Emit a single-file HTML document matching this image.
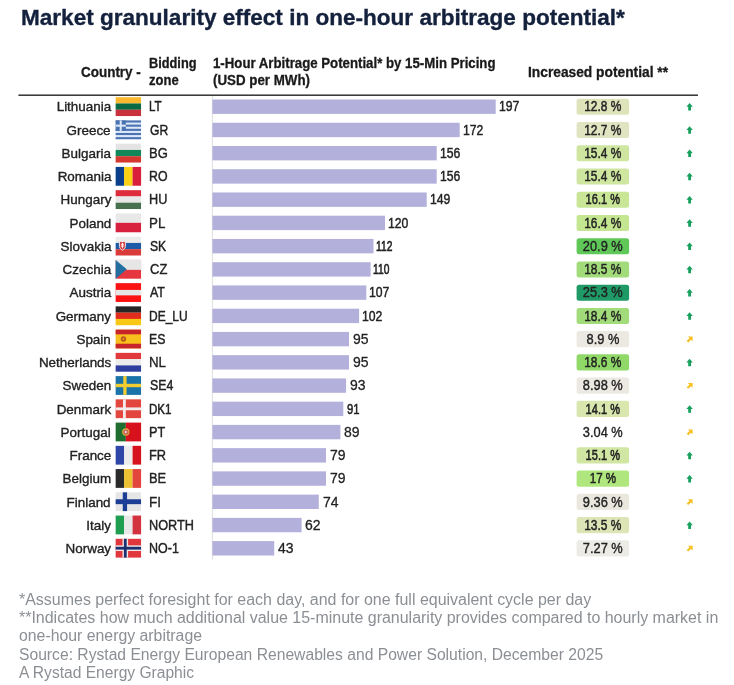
<!DOCTYPE html>
<html lang="en"><head><meta charset="utf-8"><title>Market granularity effect in one-hour arbitrage potential</title>
<style>
html,body{margin:0;padding:0;background:#fff;}
body{width:734px;height:685px;position:relative;overflow:hidden;font-family:"Liberation Sans",Arial,Helvetica,sans-serif;}
.t{position:absolute;white-space:nowrap;display:block;}
#chart{position:absolute;left:0;top:0;width:734px;height:685px;will-change:transform;}
.r{-webkit-text-stroke:0.42px #222;}
.n{-webkit-text-stroke:0.36px #222;}
.h{-webkit-text-stroke:0.3px #1a1a1a;}
.title{-webkit-text-stroke:0.35px #14213d;}
</style></head><body><div id="chart">

<span class="t title" style="left:21.00px;top:4.30px;font-size:22.6px;line-height:27px;color:#14213d;font-weight:700;transform:scaleX(0.9979);transform-origin:0 50%;">Market granularity effect in one-hour arbitrage potential*</span>
<span class="t h" style="left:81.00px;top:63.80px;font-size:14px;line-height:17px;color:#1a1a1a;font-weight:700;transform:scaleX(0.9612);transform-origin:0 50%;">Country -</span>
<span class="t h" style="left:149.40px;top:54.60px;font-size:14px;line-height:17px;color:#1a1a1a;font-weight:700;transform:scaleX(0.9118);transform-origin:0 50%;">Bidding</span>
<span class="t h" style="left:149.40px;top:71.70px;font-size:14px;line-height:17px;color:#1a1a1a;font-weight:700;transform:scaleX(0.9300);transform-origin:0 50%;">zone</span>
<span class="t h" style="left:212.60px;top:54.60px;font-size:14px;line-height:17px;color:#1a1a1a;font-weight:700;transform:scaleX(0.9449);transform-origin:0 50%;">1-Hour Arbitrage Potential* by 15-Min Pricing</span>
<span class="t h" style="left:212.60px;top:71.70px;font-size:14px;line-height:17px;color:#1a1a1a;font-weight:700;transform:scaleX(0.9521);transform-origin:0 50%;">(USD per MWh)</span>
<span class="t h" style="left:528.00px;top:63.80px;font-size:14px;line-height:17px;color:#1a1a1a;font-weight:700;transform:scaleX(0.9833);transform-origin:0 50%;">Increased potential **</span>
<svg id="gfx" width="734" height="685" viewBox="0 0 734 685" style="position:absolute;left:0;top:0"><rect x="18.4" y="94.45" width="679.6" height="1.5" fill="#333"/><rect x="211.9" y="96" width="1" height="463.8" fill="#dedede"/><g transform="translate(115.65 97.20)"><rect x="0" y="0.00" width="25.4" height="6.32" fill="#fdb92e"/><rect x="0" y="6.27" width="25.4" height="6.32" fill="#0a6a44"/><rect x="0" y="12.53" width="25.4" height="6.32" fill="#c9313c"/></g><rect x="212.4" y="99.50" width="283.3" height="14.4" fill="#b3b0dc"/><rect x="576.6" y="98.70" width="52.5" height="16.1" rx="2.5" fill="#dfe3ba"/><path transform="translate(686.4 103.10)" d="M3.2 0L6.4 3.7H4.6V7.5H1.8V3.7H0z" fill="#17a05c"/><g transform="translate(115.65 120.44)"><rect width="25.4" height="18.8" fill="#dbe8fa"/><rect x="0" y="0.00" width="25.4" height="2.09" fill="#4b73b1"/><rect x="0" y="4.18" width="25.4" height="2.09" fill="#4b73b1"/><rect x="0" y="8.36" width="25.4" height="2.09" fill="#4b73b1"/><rect x="0" y="12.53" width="25.4" height="2.09" fill="#4b73b1"/><rect x="0" y="16.71" width="25.4" height="2.09" fill="#4b73b1"/><rect x="0" y="0" width="10.16" height="10.44" fill="#4b73b1"/><rect x="4.06" y="0" width="2.03" height="10.44" fill="#dbe8fa"/><rect x="0" y="4.18" width="10.16" height="2.09" fill="#dbe8fa"/></g><rect x="212.4" y="122.74" width="247.3" height="14.4" fill="#b3b0dc"/><rect x="576.6" y="121.94" width="52.5" height="16.1" rx="2.5" fill="#e1e4c0"/><path transform="translate(686.4 126.34)" d="M3.2 0L6.4 3.7H4.6V7.5H1.8V3.7H0z" fill="#17a05c"/><g transform="translate(115.65 143.68)"><rect x="0" y="0.00" width="25.4" height="6.32" fill="#e4e4e4"/><rect x="0" y="6.27" width="25.4" height="6.32" fill="#12875a"/><rect x="0" y="12.53" width="25.4" height="6.32" fill="#d5382f"/></g><rect x="212.4" y="145.98" width="224.3" height="14.4" fill="#b3b0dc"/><rect x="576.6" y="145.18" width="52.5" height="16.1" rx="2.5" fill="#cee6a0"/><path transform="translate(686.4 149.58)" d="M3.2 0L6.4 3.7H4.6V7.5H1.8V3.7H0z" fill="#17a05c"/><g transform="translate(115.65 166.93)"><rect x="0.00" y="0" width="8.52" height="18.8" fill="#0b3f8c"/><rect x="8.47" y="0" width="8.52" height="18.8" fill="#fbd116"/><rect x="16.93" y="0" width="8.52" height="18.8" fill="#d8203a"/></g><rect x="212.4" y="169.23" width="224.3" height="14.4" fill="#b3b0dc"/><rect x="576.6" y="168.43" width="52.5" height="16.1" rx="2.5" fill="#cee6a0"/><path transform="translate(686.4 172.83)" d="M3.2 0L6.4 3.7H4.6V7.5H1.8V3.7H0z" fill="#17a05c"/><g transform="translate(115.65 190.17)"><rect x="0" y="0.00" width="25.4" height="6.32" fill="#de2c3c"/><rect x="0" y="6.27" width="25.4" height="6.32" fill="#e8e8e8"/><rect x="0" y="12.53" width="25.4" height="6.32" fill="#47714f"/></g><rect x="212.4" y="192.47" width="214.3" height="14.4" fill="#b3b0dc"/><rect x="576.6" y="191.67" width="52.5" height="16.1" rx="2.5" fill="#c8e696"/><path transform="translate(686.4 196.07)" d="M3.2 0L6.4 3.7H4.6V7.5H1.8V3.7H0z" fill="#17a05c"/><g transform="translate(115.65 213.41)"><rect x="0" y="0.00" width="25.4" height="9.45" fill="#e8e8e8"/><rect x="0" y="9.40" width="25.4" height="9.45" fill="#d8213f"/></g><rect x="212.4" y="215.71" width="172.6" height="14.4" fill="#b3b0dc"/><rect x="576.6" y="214.91" width="52.5" height="16.1" rx="2.5" fill="#c4e690"/><path transform="translate(686.4 219.31)" d="M3.2 0L6.4 3.7H4.6V7.5H1.8V3.7H0z" fill="#17a05c"/><g transform="translate(115.65 236.65)"><rect x="0" y="0.00" width="25.4" height="6.32" fill="#ececec"/><rect x="0" y="6.27" width="25.4" height="6.32" fill="#1d5aa8"/><rect x="0" y="12.53" width="25.4" height="6.32" fill="#d93a3a"/><path d="M3.8 4.9h6v5c0 2.3-3 3.6-3 3.6s-3-1.3-3-3.6z" fill="#d93a3a" stroke="#f0f0f0" stroke-width="0.9"/><path d="M6.8 6v5.6M5.3 7.6h3M5 9.4h3.6" stroke="#fff" stroke-width="0.9" fill="none"/></g><rect x="212.4" y="238.95" width="161.1" height="14.4" fill="#b3b0dc"/><rect x="576.6" y="238.15" width="52.5" height="16.1" rx="2.5" fill="#60c858"/><path transform="translate(686.4 242.55)" d="M3.2 0L6.4 3.7H4.6V7.5H1.8V3.7H0z" fill="#17a05c"/><g transform="translate(115.65 259.89)"><rect width="25.4" height="18.8" fill="#e6363f"/><rect width="25.4" height="9.96" fill="#e6e6e6"/><path d="M0 0L11.18 9.40L0 18.8z" fill="#236f9f"/></g><rect x="212.4" y="262.19" width="158.2" height="14.4" fill="#b3b0dc"/><rect x="576.6" y="261.39" width="52.5" height="16.1" rx="2.5" fill="#a2dc7a"/><path transform="translate(686.4 265.79)" d="M3.2 0L6.4 3.7H4.6V7.5H1.8V3.7H0z" fill="#17a05c"/><g transform="translate(115.65 283.14)"><rect width="25.4" height="18.8" fill="#fb1212"/><rect y="6.77" width="25.4" height="5.45" fill="#e6e6e6"/></g><rect x="212.4" y="285.44" width="153.9" height="14.4" fill="#b3b0dc"/><rect x="576.6" y="284.64" width="52.5" height="16.1" rx="2.5" fill="#1f9966"/><path transform="translate(686.4 289.04)" d="M3.2 0L6.4 3.7H4.6V7.5H1.8V3.7H0z" fill="#17a05c"/><g transform="translate(115.65 306.38)"><rect x="0" y="0.00" width="25.4" height="6.32" fill="#262626"/><rect x="0" y="6.27" width="25.4" height="6.32" fill="#e12d1c"/><rect x="0" y="12.53" width="25.4" height="6.32" fill="#f8c815"/></g><rect x="212.4" y="308.68" width="146.7" height="14.4" fill="#b3b0dc"/><rect x="576.6" y="307.88" width="52.5" height="16.1" rx="2.5" fill="#a2dc7a"/><path transform="translate(686.4 312.28)" d="M3.2 0L6.4 3.7H4.6V7.5H1.8V3.7H0z" fill="#17a05c"/><g transform="translate(115.65 329.62)"><rect width="25.4" height="18.8" fill="#f7bf1c"/><rect width="25.4" height="4.70" fill="#c8242c"/><rect y="14.10" width="25.4" height="4.70" fill="#c8242c"/><circle cx="7.8" cy="9.40" r="2.7" fill="#b9561c"/><circle cx="7.8" cy="9.40" r="0.9" fill="#e8a81c"/></g><rect x="212.4" y="331.92" width="136.6" height="14.4" fill="#b3b0dc"/><rect x="576.6" y="331.12" width="52.5" height="16.1" rx="2.5" fill="#ebe9e1"/><path transform="translate(686.5 336.62) scale(0.9)" d="M1.6 0H6.8V5.2L5 3.6L1.9 6.4L0.2 4.7L3.3 1.7z" fill="#f6c122"/><g transform="translate(115.65 352.86)"><rect x="0" y="0.00" width="25.4" height="6.32" fill="#e03a3d"/><rect x="0" y="6.27" width="25.4" height="6.32" fill="#ececec"/><rect x="0" y="12.53" width="25.4" height="6.32" fill="#2f3f9f"/></g><rect x="212.4" y="355.16" width="136.6" height="14.4" fill="#b3b0dc"/><rect x="576.6" y="354.36" width="52.5" height="16.1" rx="2.5" fill="#90d868"/><path transform="translate(686.4 358.76)" d="M3.2 0L6.4 3.7H4.6V7.5H1.8V3.7H0z" fill="#17a05c"/><g transform="translate(115.65 376.10)"><rect width="25.4" height="18.8" fill="#1b74a9"/><rect x="7.62" width="3.30" height="18.8" fill="#f2cd30"/><rect y="7.71" width="25.4" height="3.38" fill="#f2cd30"/></g><rect x="212.4" y="378.40" width="133.7" height="14.4" fill="#b3b0dc"/><rect x="576.6" y="377.60" width="52.5" height="16.1" rx="2.5" fill="#ebe9e1"/><path transform="translate(686.5 383.10) scale(0.9)" d="M1.6 0H6.8V5.2L5 3.6L1.9 6.4L0.2 4.7L3.3 1.7z" fill="#f6c122"/><g transform="translate(115.65 399.35)"><rect width="25.4" height="18.8" fill="#e2463d"/><rect x="7.37" width="2.79" height="18.8" fill="#f4ecec"/><rect y="8.08" width="25.4" height="2.82" fill="#f4ecec"/></g><rect x="212.4" y="401.65" width="130.9" height="14.4" fill="#b3b0dc"/><rect x="576.6" y="400.85" width="52.5" height="16.1" rx="2.5" fill="#d9e6ae"/><path transform="translate(686.4 405.25)" d="M3.2 0L6.4 3.7H4.6V7.5H1.8V3.7H0z" fill="#17a05c"/><g transform="translate(115.65 422.59)"><rect x="0.00" y="0" width="10.21" height="18.8" fill="#1f6e2f"/><rect x="10.16" y="0" width="15.29" height="18.8" fill="#d8121d"/><circle cx="10.16" cy="9.40" r="3.7" fill="#d9b04a"/><circle cx="10.16" cy="9.40" r="2.6" fill="#cf5a4a"/><circle cx="10.16" cy="9.40" r="1.2" fill="#d8d0d0"/></g><rect x="212.4" y="424.89" width="128.0" height="14.4" fill="#b3b0dc"/><path transform="translate(686.5 429.59) scale(0.9)" d="M1.6 0H6.8V5.2L5 3.6L1.9 6.4L0.2 4.7L3.3 1.7z" fill="#f6c122"/><g transform="translate(115.65 445.83)"><rect x="0.00" y="0" width="8.52" height="18.8" fill="#2f47a9"/><rect x="8.47" y="0" width="8.52" height="18.8" fill="#ececec"/><rect x="16.93" y="0" width="8.52" height="18.8" fill="#d8121d"/></g><rect x="212.4" y="448.13" width="113.6" height="14.4" fill="#b3b0dc"/><rect x="576.6" y="447.33" width="52.5" height="16.1" rx="2.5" fill="#d0e6a2"/><path transform="translate(686.4 451.73)" d="M3.2 0L6.4 3.7H4.6V7.5H1.8V3.7H0z" fill="#17a05c"/><g transform="translate(115.65 469.07)"><rect x="0.00" y="0" width="8.52" height="18.8" fill="#2a2a2a"/><rect x="8.47" y="0" width="8.52" height="18.8" fill="#edc230"/><rect x="16.93" y="0" width="8.52" height="18.8" fill="#e2463d"/></g><rect x="212.4" y="471.37" width="113.6" height="14.4" fill="#b3b0dc"/><rect x="576.6" y="470.57" width="52.5" height="16.1" rx="2.5" fill="#b0e67e"/><path transform="translate(686.4 474.97)" d="M3.2 0L6.4 3.7H4.6V7.5H1.8V3.7H0z" fill="#17a05c"/><g transform="translate(115.65 492.31)"><rect width="25.4" height="18.8" fill="#e6e6e6"/><rect x="7.11" width="4.32" height="18.8" fill="#1c3f95"/><rect y="6.96" width="25.4" height="4.89" fill="#1c3f95"/></g><rect x="212.4" y="494.61" width="106.4" height="14.4" fill="#b3b0dc"/><rect x="576.6" y="493.81" width="52.5" height="16.1" rx="2.5" fill="#eae8de"/><path transform="translate(686.5 499.31) scale(0.9)" d="M1.6 0H6.8V5.2L5 3.6L1.9 6.4L0.2 4.7L3.3 1.7z" fill="#f6c122"/><g transform="translate(115.65 515.56)"><rect x="0.00" y="0" width="8.52" height="18.8" fill="#1f9e51"/><rect x="8.47" y="0" width="8.52" height="18.8" fill="#e8e8e8"/><rect x="16.93" y="0" width="8.52" height="18.8" fill="#d3333f"/></g><rect x="212.4" y="517.86" width="89.2" height="14.4" fill="#b3b0dc"/><rect x="576.6" y="517.06" width="52.5" height="16.1" rx="2.5" fill="#dde5b6"/><path transform="translate(686.4 521.46)" d="M3.2 0L6.4 3.7H4.6V7.5H1.8V3.7H0z" fill="#17a05c"/><g transform="translate(115.65 538.80)"><rect width="25.4" height="18.8" fill="#e2363d"/><rect x="6.86" width="5.59" height="18.8" fill="#f0e8e8"/><rect y="6.58" width="25.4" height="5.64" fill="#f0e8e8"/><rect x="8.25" width="2.79" height="18.8" fill="#1c2f6f"/><rect y="7.99" width="25.4" height="2.82" fill="#1c2f6f"/></g><rect x="212.4" y="541.10" width="61.8" height="14.4" fill="#b3b0dc"/><rect x="576.6" y="540.30" width="52.5" height="16.1" rx="2.5" fill="#ecebe6"/><path transform="translate(686.5 545.80) scale(0.9)" d="M1.6 0H6.8V5.2L5 3.6L1.9 6.4L0.2 4.7L3.3 1.7z" fill="#f6c122"/></svg>
<div class="row">
<span class="t n" style="left:55.80px;top:99.45px;font-size:13.6px;line-height:16px;color:#222222;transform:scaleX(0.9880);transform-origin:100% 50%;">Lithuania</span>
<span class="t r" style="left:149.35px;top:98.45px;font-size:14px;line-height:17px;color:#222222;-webkit-text-stroke-width:0.50px;transform:scaleX(0.8255);transform-origin:0 50%;">LT</span>
<span class="t r" style="left:498.59px;top:98.45px;font-size:14px;line-height:17px;color:#222222;-webkit-text-stroke-width:0.44px;transform:scaleX(0.8716);transform-origin:0 50%;">197</span>
<span class="t r" style="left:581.11px;top:98.45px;font-size:14px;line-height:17px;color:#222222;-webkit-text-stroke-width:0.46px;transform:scaleX(0.8520);transform-origin:50% 50%;">12.8 %</span>
</div>
<div class="row">
<span class="t n" style="left:66.40px;top:122.69px;font-size:13.6px;line-height:16px;color:#222222;transform:scaleX(0.9880);transform-origin:100% 50%;">Greece</span>
<span class="t r" style="left:149.69px;top:121.69px;font-size:14px;line-height:17px;color:#222222;-webkit-text-stroke-width:0.44px;transform:scaleX(0.8673);transform-origin:0 50%;">GR</span>
<span class="t r" style="left:462.64px;top:121.69px;font-size:14px;line-height:17px;color:#222222;-webkit-text-stroke-width:0.44px;transform:scaleX(0.8716);transform-origin:0 50%;">172</span>
<span class="t r" style="left:581.11px;top:121.69px;font-size:14px;line-height:17px;color:#222222;-webkit-text-stroke-width:0.46px;transform:scaleX(0.8520);transform-origin:50% 50%;">12.7 %</span>
</div>
<div class="row">
<span class="t n" style="left:61.10px;top:145.93px;font-size:13.6px;line-height:16px;color:#222222;transform:scaleX(0.9880);transform-origin:100% 50%;">Bulgaria</span>
<span class="t r" style="left:149.23px;top:144.93px;font-size:14px;line-height:17px;color:#222222;-webkit-text-stroke-width:0.36px;transform:scaleX(0.9278);transform-origin:0 50%;">BG</span>
<span class="t r" style="left:439.63px;top:144.93px;font-size:14px;line-height:17px;color:#222222;-webkit-text-stroke-width:0.44px;transform:scaleX(0.8716);transform-origin:0 50%;">156</span>
<span class="t r" style="left:581.11px;top:144.93px;font-size:14px;line-height:17px;color:#222222;-webkit-text-stroke-width:0.46px;transform:scaleX(0.8520);transform-origin:50% 50%;">15.4 %</span>
</div>
<div class="row">
<span class="t n" style="left:56.57px;top:169.18px;font-size:13.6px;line-height:16px;color:#222222;transform:scaleX(0.9880);transform-origin:100% 50%;">Romania</span>
<span class="t r" style="left:149.29px;top:168.18px;font-size:14px;line-height:17px;color:#222222;-webkit-text-stroke-width:0.43px;transform:scaleX(0.8802);transform-origin:0 50%;">RO</span>
<span class="t r" style="left:439.63px;top:168.18px;font-size:14px;line-height:17px;color:#222222;-webkit-text-stroke-width:0.44px;transform:scaleX(0.8716);transform-origin:0 50%;">156</span>
<span class="t r" style="left:581.11px;top:168.18px;font-size:14px;line-height:17px;color:#222222;-webkit-text-stroke-width:0.46px;transform:scaleX(0.8520);transform-origin:50% 50%;">15.4 %</span>
</div>
<div class="row">
<span class="t n" style="left:59.59px;top:192.42px;font-size:13.6px;line-height:16px;color:#222222;transform:scaleX(0.9880);transform-origin:100% 50%;">Hungary</span>
<span class="t r" style="left:149.26px;top:191.42px;font-size:14px;line-height:17px;color:#222222;-webkit-text-stroke-width:0.39px;transform:scaleX(0.9056);transform-origin:0 50%;">HU</span>
<span class="t r" style="left:429.56px;top:191.42px;font-size:14px;line-height:17px;color:#222222;-webkit-text-stroke-width:0.44px;transform:scaleX(0.8716);transform-origin:0 50%;">149</span>
<span class="t r" style="left:581.11px;top:191.42px;font-size:14px;line-height:17px;color:#222222;-webkit-text-stroke-width:0.54px;transform:scaleX(0.7890);transform-origin:50% 50%;">16.1 %</span>
</div>
<div class="row">
<span class="t n" style="left:68.65px;top:215.66px;font-size:13.6px;line-height:16px;color:#222222;transform:scaleX(0.9880);transform-origin:100% 50%;">Poland</span>
<span class="t r" style="left:149.20px;top:214.66px;font-size:14px;line-height:17px;color:#222222;-webkit-text-stroke-width:0.33px;transform:scaleX(0.9548);transform-origin:0 50%;">PL</span>
<span class="t r" style="left:387.86px;top:214.66px;font-size:14px;line-height:17px;color:#222222;-webkit-text-stroke-width:0.44px;transform:scaleX(0.8716);transform-origin:0 50%;">120</span>
<span class="t r" style="left:581.11px;top:214.66px;font-size:14px;line-height:17px;color:#222222;-webkit-text-stroke-width:0.46px;transform:scaleX(0.8520);transform-origin:50% 50%;">16.4 %</span>
</div>
<div class="row">
<span class="t n" style="left:59.59px;top:238.90px;font-size:13.6px;line-height:16px;color:#222222;transform:scaleX(0.9880);transform-origin:100% 50%;">Slovakia</span>
<span class="t r" style="left:149.75px;top:237.90px;font-size:14px;line-height:17px;color:#222222;-webkit-text-stroke-width:0.44px;transform:scaleX(0.8659);transform-origin:0 50%;">SK</span>
<span class="t r" style="left:376.36px;top:237.90px;font-size:14px;line-height:17px;color:#222222;-webkit-text-stroke-width:0.62px;transform:scaleX(0.7312);transform-origin:0 50%;">112</span>
<span class="t r" style="left:581.11px;top:237.90px;font-size:14px;line-height:17px;color:#222222;-webkit-text-stroke-width:0.38px;transform:scaleX(0.9150);transform-origin:50% 50%;">20.9 %</span>
</div>
<div class="row">
<span class="t n" style="left:61.87px;top:262.14px;font-size:13.6px;line-height:16px;color:#222222;transform:scaleX(0.9880);transform-origin:100% 50%;">Czechia</span>
<span class="t r" style="left:149.64px;top:261.14px;font-size:14px;line-height:17px;color:#222222;-webkit-text-stroke-width:0.36px;transform:scaleX(0.9314);transform-origin:0 50%;">CZ</span>
<span class="t r" style="left:373.48px;top:261.14px;font-size:14px;line-height:17px;color:#222222;-webkit-text-stroke-width:0.62px;transform:scaleX(0.7312);transform-origin:0 50%;">110</span>
<span class="t r" style="left:581.11px;top:261.14px;font-size:14px;line-height:17px;color:#222222;-webkit-text-stroke-width:0.46px;transform:scaleX(0.8520);transform-origin:50% 50%;">18.5 %</span>
</div>
<div class="row">
<span class="t n" style="left:68.67px;top:285.39px;font-size:13.6px;line-height:16px;color:#222222;transform:scaleX(0.9880);transform-origin:100% 50%;">Austria</span>
<span class="t r" style="left:150.27px;top:284.39px;font-size:14px;line-height:17px;color:#222222;-webkit-text-stroke-width:0.42px;transform:scaleX(0.8857);transform-origin:0 50%;">AT</span>
<span class="t r" style="left:369.17px;top:284.39px;font-size:14px;line-height:17px;color:#222222;-webkit-text-stroke-width:0.44px;transform:scaleX(0.8716);transform-origin:0 50%;">107</span>
<span class="t r" style="left:581.11px;top:284.39px;font-size:14px;line-height:17px;color:#222222;-webkit-text-stroke-width:0.38px;transform:scaleX(0.9150);transform-origin:50% 50%;">25.3 %</span>
</div>
<div class="row">
<span class="t n" style="left:55.07px;top:308.63px;font-size:13.6px;line-height:16px;color:#222222;transform:scaleX(0.9880);transform-origin:100% 50%;">Germany</span>
<span class="t r" style="left:149.32px;top:307.63px;font-size:14px;line-height:17px;color:#222222;-webkit-text-stroke-width:0.46px;transform:scaleX(0.8555);transform-origin:0 50%;">DE_LU</span>
<span class="t r" style="left:361.98px;top:307.63px;font-size:14px;line-height:17px;color:#222222;-webkit-text-stroke-width:0.44px;transform:scaleX(0.8716);transform-origin:0 50%;">102</span>
<span class="t r" style="left:581.11px;top:307.63px;font-size:14px;line-height:17px;color:#222222;-webkit-text-stroke-width:0.46px;transform:scaleX(0.8520);transform-origin:50% 50%;">18.4 %</span>
</div>
<div class="row">
<span class="t n" style="left:76.22px;top:331.87px;font-size:13.6px;line-height:16px;color:#222222;transform:scaleX(0.9880);transform-origin:100% 50%;">Spain</span>
<span class="t r" style="left:149.29px;top:330.87px;font-size:14px;line-height:17px;color:#222222;-webkit-text-stroke-width:0.43px;transform:scaleX(0.8757);transform-origin:0 50%;">ES</span>
<span class="t r" style="left:352.91px;top:330.87px;font-size:14px;line-height:17px;color:#222222;-webkit-text-stroke-width:0.27px;transform:scaleX(0.9980);transform-origin:0 50%;">95</span>
<span class="t r" style="left:585.00px;top:330.87px;font-size:14px;line-height:17px;color:#222222;-webkit-text-stroke-width:0.38px;transform:scaleX(0.9150);transform-origin:50% 50%;">8.9 %</span>
</div>
<div class="row">
<span class="t n" style="left:37.67px;top:355.11px;font-size:13.6px;line-height:16px;color:#222222;transform:scaleX(0.9880);transform-origin:100% 50%;">Netherlands</span>
<span class="t r" style="left:149.21px;top:354.11px;font-size:14px;line-height:17px;color:#222222;-webkit-text-stroke-width:0.33px;transform:scaleX(0.9509);transform-origin:0 50%;">NL</span>
<span class="t r" style="left:352.91px;top:354.11px;font-size:14px;line-height:17px;color:#222222;-webkit-text-stroke-width:0.27px;transform:scaleX(0.9980);transform-origin:0 50%;">95</span>
<span class="t r" style="left:581.11px;top:354.11px;font-size:14px;line-height:17px;color:#222222;-webkit-text-stroke-width:0.46px;transform:scaleX(0.8520);transform-origin:50% 50%;">18.6 %</span>
</div>
<div class="row">
<span class="t n" style="left:61.85px;top:378.35px;font-size:13.6px;line-height:16px;color:#222222;transform:scaleX(0.9880);transform-origin:100% 50%;">Sweden</span>
<span class="t r" style="left:149.74px;top:377.35px;font-size:14px;line-height:17px;color:#222222;-webkit-text-stroke-width:0.42px;transform:scaleX(0.8819);transform-origin:0 50%;">SE4</span>
<span class="t r" style="left:350.03px;top:377.35px;font-size:14px;line-height:17px;color:#222222;-webkit-text-stroke-width:0.27px;transform:scaleX(0.9980);transform-origin:0 50%;">93</span>
<span class="t r" style="left:581.11px;top:377.35px;font-size:14px;line-height:17px;color:#222222;-webkit-text-stroke-width:0.38px;transform:scaleX(0.9150);transform-origin:50% 50%;">8.98 %</span>
</div>
<div class="row">
<span class="t n" style="left:55.83px;top:401.60px;font-size:13.6px;line-height:16px;color:#222222;transform:scaleX(0.9880);transform-origin:100% 50%;">Denmark</span>
<span class="t r" style="left:149.35px;top:400.60px;font-size:14px;line-height:17px;color:#222222;-webkit-text-stroke-width:0.50px;transform:scaleX(0.8268);transform-origin:0 50%;">DK1</span>
<span class="t r" style="left:347.16px;top:400.60px;font-size:14px;line-height:17px;color:#222222;-webkit-text-stroke-width:0.52px;transform:scaleX(0.8074);transform-origin:0 50%;">91</span>
<span class="t r" style="left:581.11px;top:400.60px;font-size:14px;line-height:17px;color:#222222;-webkit-text-stroke-width:0.54px;transform:scaleX(0.7890);transform-origin:50% 50%;">14.1 %</span>
</div>
<div class="row">
<span class="t n" style="left:60.34px;top:424.84px;font-size:13.6px;line-height:16px;color:#222222;transform:scaleX(0.9880);transform-origin:100% 50%;">Portugal</span>
<span class="t r" style="left:149.26px;top:423.84px;font-size:14px;line-height:17px;color:#222222;-webkit-text-stroke-width:0.40px;transform:scaleX(0.9024);transform-origin:0 50%;">PT</span>
<span class="t r" style="left:344.28px;top:423.84px;font-size:14px;line-height:17px;color:#222222;-webkit-text-stroke-width:0.27px;transform:scaleX(0.9980);transform-origin:0 50%;">89</span>
<span class="t r" style="left:581.11px;top:423.84px;font-size:14px;line-height:17px;color:#222222;-webkit-text-stroke-width:0.38px;transform:scaleX(0.9150);transform-origin:50% 50%;">3.04 %</span>
</div>
<div class="row">
<span class="t n" style="left:68.67px;top:448.08px;font-size:13.6px;line-height:16px;color:#222222;transform:scaleX(0.9880);transform-origin:100% 50%;">France</span>
<span class="t r" style="left:149.25px;top:447.08px;font-size:14px;line-height:17px;color:#222222;-webkit-text-stroke-width:0.38px;transform:scaleX(0.9172);transform-origin:0 50%;">FR</span>
<span class="t r" style="left:329.90px;top:447.08px;font-size:14px;line-height:17px;color:#222222;-webkit-text-stroke-width:0.27px;transform:scaleX(0.9980);transform-origin:0 50%;">79</span>
<span class="t r" style="left:581.11px;top:447.08px;font-size:14px;line-height:17px;color:#222222;-webkit-text-stroke-width:0.54px;transform:scaleX(0.7890);transform-origin:50% 50%;">15.1 %</span>
</div>
<div class="row">
<span class="t n" style="left:61.87px;top:471.32px;font-size:13.6px;line-height:16px;color:#222222;transform:scaleX(0.9880);transform-origin:100% 50%;">Belgium</span>
<span class="t r" style="left:149.25px;top:470.32px;font-size:14px;line-height:17px;color:#222222;-webkit-text-stroke-width:0.38px;transform:scaleX(0.9172);transform-origin:0 50%;">BE</span>
<span class="t r" style="left:329.90px;top:470.32px;font-size:14px;line-height:17px;color:#222222;-webkit-text-stroke-width:0.27px;transform:scaleX(0.9980);transform-origin:0 50%;">79</span>
<span class="t r" style="left:586.94px;top:470.32px;font-size:14px;line-height:17px;color:#222222;-webkit-text-stroke-width:0.49px;transform:scaleX(0.8290);transform-origin:50% 50%;">17 %</span>
</div>
<div class="row">
<span class="t n" style="left:66.39px;top:494.56px;font-size:13.6px;line-height:16px;color:#222222;transform:scaleX(0.9880);transform-origin:100% 50%;">Finland</span>
<span class="t r" style="left:149.18px;top:493.56px;font-size:14px;line-height:17px;color:#222222;-webkit-text-stroke-width:0.31px;transform:scaleX(0.9700);transform-origin:0 50%;">FI</span>
<span class="t r" style="left:322.71px;top:493.56px;font-size:14px;line-height:17px;color:#222222;-webkit-text-stroke-width:0.27px;transform:scaleX(0.9980);transform-origin:0 50%;">74</span>
<span class="t r" style="left:581.11px;top:493.56px;font-size:14px;line-height:17px;color:#222222;-webkit-text-stroke-width:0.38px;transform:scaleX(0.9150);transform-origin:50% 50%;">9.36 %</span>
</div>
<div class="row">
<span class="t n" style="left:86.06px;top:517.81px;font-size:13.6px;line-height:16px;color:#222222;transform:scaleX(0.9880);transform-origin:100% 50%;">Italy</span>
<span class="t r" style="left:149.26px;top:516.81px;font-size:14px;line-height:17px;color:#222222;-webkit-text-stroke-width:0.39px;transform:scaleX(0.9074);transform-origin:0 50%;">NORTH</span>
<span class="t r" style="left:305.46px;top:516.81px;font-size:14px;line-height:17px;color:#222222;-webkit-text-stroke-width:0.27px;transform:scaleX(0.9980);transform-origin:0 50%;">62</span>
<span class="t r" style="left:581.11px;top:516.81px;font-size:14px;line-height:17px;color:#222222;-webkit-text-stroke-width:0.46px;transform:scaleX(0.8520);transform-origin:50% 50%;">13.5 %</span>
</div>
<div class="row">
<span class="t n" style="left:64.90px;top:541.05px;font-size:13.6px;line-height:16px;color:#222222;transform:scaleX(0.9880);transform-origin:100% 50%;">Norway</span>
<span class="t r" style="left:149.27px;top:540.05px;font-size:14px;line-height:17px;color:#222222;-webkit-text-stroke-width:0.41px;transform:scaleX(0.8924);transform-origin:0 50%;">NO-1</span>
<span class="t r" style="left:278.13px;top:540.05px;font-size:14px;line-height:17px;color:#222222;-webkit-text-stroke-width:0.27px;transform:scaleX(0.9980);transform-origin:0 50%;">43</span>
<span class="t r" style="left:581.11px;top:540.05px;font-size:14px;line-height:17px;color:#222222;-webkit-text-stroke-width:0.38px;transform:scaleX(0.9150);transform-origin:50% 50%;">7.27 %</span>
</div>
<span class="t foot" style="left:19.00px;top:589.50px;font-size:16px;line-height:19px;color:#8b8f94;transform:scaleX(0.9980);transform-origin:0 50%;">*Assumes perfect foresight for each day, and for one full equivalent cycle per day</span>
<span class="t foot" style="left:19.00px;top:607.80px;font-size:16px;line-height:19px;color:#8b8f94;transform:scaleX(0.9978);transform-origin:0 50%;">**Indicates how much additional value 15-minute granularity provides compared to hourly market in</span>
<span class="t foot" style="left:19.00px;top:626.20px;font-size:16px;line-height:19px;color:#8b8f94;transform:scaleX(0.9891);transform-origin:0 50%;">one-hour energy arbitrage</span>
<span class="t foot" style="left:19.00px;top:644.60px;font-size:16px;line-height:19px;color:#8b8f94;transform:scaleX(0.9789);transform-origin:0 50%;">Source: Rystad Energy European Renewables and Power Solution, December 2025</span>
<span class="t foot" style="left:19.00px;top:663.00px;font-size:16px;line-height:19px;color:#8b8f94;transform:scaleX(0.9742);transform-origin:0 50%;">A Rystad Energy Graphic</span>
</div></body></html>
